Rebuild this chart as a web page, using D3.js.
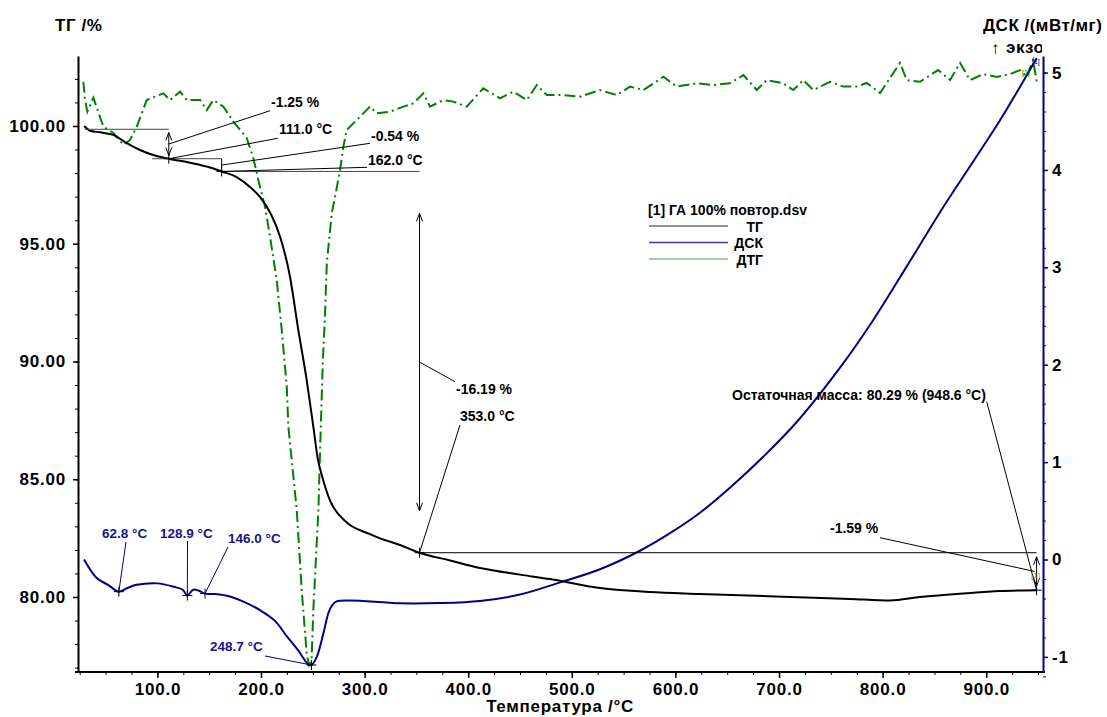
<!DOCTYPE html>
<html><head><meta charset="utf-8">
<script src="https://cdn.jsdelivr.net/npm/d3@7"></script>
<style>
body{margin:0;background:#fff;}
svg{display:block;font-family:"Liberation Sans",Arial,sans-serif;font-weight:bold;}
</style></head><body>
<svg id="c" width="1107" height="717"></svg>
<script>
// ---------- DATA ----------
const tgTemp = [29.4,35.0,44.6,57.5,70.4,83.2,96.0,111.0,131.5,150.8,162.0,176.5,189.4,199.0,210.0,218.4,228.0,236.0,244.1,250.5,255.0,258.9,266.6,281.1,305.2,314.9,334.2,353.0,382.5,411.4,450.0,479.0,527.2,575.5,623.7,710.6,768.5,807.1,836.0,881.1,913.3,948.6];
const tgMass = [100.0,99.80,99.73,99.62,99.27,98.98,98.77,98.61,98.44,98.24,98.07,97.83,97.41,96.99,96.22,95.30,93.60,91.34,89.21,87.23,85.82,85.14,84.10,83.23,82.67,82.49,82.21,81.88,81.55,81.23,80.95,80.76,80.38,80.21,80.13,80.00,79.92,79.85,80.00,80.16,80.25,80.29];

const dscTemp = [29.2,41.4,52.3,62.8,71.6,80.0,100.0,116.0,124.4,128.9,134.6,140.0,146.0,155.6,170.0,184.6,199.0,213.5,225.0,235.7,245.6,248.7,253.8,260.2,265.0,268.6,273.0,286.0,334.2,372.8,411.4,450.0,488.6,527.2,565.8,594.8,623.7,655.6,688.1,718.6,758.9,791.0,823.3,858.6,887.6,913.3,948.8];
const dscVal  = [0.00,-0.19,-0.26,-0.33,-0.29,-0.26,-0.245,-0.28,-0.31,-0.37,-0.31,-0.32,-0.35,-0.355,-0.38,-0.44,-0.52,-0.63,-0.79,-0.93,-1.076,-1.083,-1.00,-0.76,-0.55,-0.47,-0.43,-0.42,-0.45,-0.447,-0.425,-0.36,-0.235,-0.10,0.09,0.27,0.48,0.765,1.09,1.43,1.97,2.46,3.01,3.62,4.09,4.51,5.15];

const dtgTemp = [28.5,30.2,32.4,38.2,47.8,57.5,67.1,73.6,80.1,89.7,105.7,112.2,121.9,128.3,141.2,147.6,154.0,163.7,173.3,186.2,192.6,197.4,203.9,208.7,215.2,220.0,224.9,226.4,234.5,239.3,244.2,246.4,248.8,250.5,255.4,257.7,259.6,261.8,263.5,268.3,271.5,276.3,279.5,282.8,289.1,298.8,305.2,311.7,324.6,337.4,347.0,356.7,363.2,376.0,385.7,398.6,414.6,430.7,443.6,456.5,466.2,475.8,491.8,508.0,527.3,543.4,556.2,569.1,588.4,601.3,620.6,636.6,652.7,665.6,678.5,688.2,704.2,713.8,723.5,733.1,749.3,762.1,775.0,784.7,797.5,816.8,823.3,836.1,853.5,865.1,874.8,884.4,897.0,910.2,923.0,932.7,939.1,945.2,948.8];
const dtgVal  = [0.066,-0.029,-0.089,-0.017,-0.167,-0.200,-0.262,-0.236,-0.167,-0.029,0.006,-0.029,0.015,-0.029,-0.029,-0.081,-0.029,-0.063,-0.141,-0.226,-0.330,-0.444,-0.583,-0.739,-0.964,-1.223,-1.518,-1.726,-2.158,-2.574,-2.912,-2.964,-2.938,-2.678,-2.158,-1.726,-1.397,-1.137,-0.877,-0.617,-0.531,-0.392,-0.271,-0.184,-0.150,-0.098,-0.063,-0.098,-0.089,-0.063,-0.046,0.006,-0.063,-0.029,-0.037,-0.063,0.032,-0.020,0.015,-0.029,0.049,-0.003,-0.003,-0.011,0.023,-0.003,0.041,0.023,0.092,0.041,0.058,0.049,0.058,0.101,0.023,0.075,0.058,0.023,0.075,0.023,0.066,0.041,0.041,0.060,0.008,0.164,0.075,0.066,0.127,0.075,0.164,0.075,0.106,0.091,0.106,0.127,0.092,0.179,0.066];

const xTicks = [100,200,300,400,500,600,700,800,900];
const tgTicks = [80,85,90,95,100];
const dscTicks = [-1,0,1,2,3,4,5];

// TG step analysis
const stepStartTemp = 30.0, stepStartMass = 99.86;
const stepTemps = [111.0,162.0,353.0,948.6];
const stepMass  = [98.61,98.07,81.88,80.29];
const stepLoss  = ["-1.25 %","-0.54 %","-16.19 %","-1.59 %"];
const stepTempLabels = ["111.0 °C","162.0 °C","353.0 °C"];
const residualLabel = "Остаточная масса: 80.29 % (948.6 °C)";

// DSC peaks
const dscPeakTemps = [62.8,128.9,146.0,248.7];
const dscPeakVals  = [-0.33,-0.37,-0.35,-1.083];
const dscPeakLabels = ["62.8 °C","128.9 °C","146.0 °C","248.7 °C"];

const legendTitle = "[1] ГА 100% повтор.dsv";
const legendNames = ["ТГ","ДСК","ДТГ"];

// ---------- LAYOUT ----------
const L=78,R=1043,T=56,B=672;
const svg = d3.select("#c");
const x = d3.scaleLinear().domain([23.36,954.8]).range([L,R]);
const yTG = d3.scaleLinear().domain([76.815,102.972]).range([B,T]);
const yDSC = d3.scaleLinear().domain([-1.155,5.170]).range([B,T]);
const yDTG = d3.scaleLinear().domain([-3.0,0.2]).range([B,T]);
const NAVY="#000080", GREEN="#008000";

// ---------- AXES ----------
function minor(g){ g.select(".domain").remove(); g.selectAll("text").remove(); }
const tickFont = g => g.selectAll("text").attr("font-size",17).attr("font-weight","bold").attr("font-family","'Liberation Sans',Arial,sans-serif").attr("fill","#000").style("letter-spacing","0.8px");

// left
svg.append("g").attr("transform",`translate(${L},0)`)
  .call(d3.axisLeft(yTG).tickValues(d3.range(77,103)).tickSize(3).tickFormat("")).call(minor)
  .selectAll("line").attr("stroke","#000");
const gl = svg.append("g").attr("transform",`translate(${L},0)`)
  .call(d3.axisLeft(yTG).tickValues(tgTicks).tickFormat(d3.format(".2f")).tickSize(5).tickSizeOuter(0).tickPadding(7));
gl.call(tickFont); gl.select(".domain").attr("stroke","#000").attr("stroke-width",2);
gl.selectAll("line").attr("stroke-width",1.5);

// bottom
svg.append("g").attr("transform",`translate(0,${B})`)
  .call(d3.axisBottom(x).tickValues(d3.range(25,951,25)).tickSize(3).tickFormat("")).call(minor);
const gb = svg.append("g").attr("transform",`translate(0,${B})`)
  .call(d3.axisBottom(x).tickValues(xTicks).tickFormat(d3.format(".1f")).tickSize(6).tickSizeOuter(0).tickPadding(5));
gb.call(tickFont); gb.select(".domain").attr("stroke-width",2).attr("d",`M${L-3},0H${R+2}`);
gb.selectAll("line").attr("stroke-width",1.5);

// right
svg.append("g").attr("transform",`translate(${R},0)`)
  .call(d3.axisRight(yDSC).tickValues(d3.range(-1.2,5.2,0.2).map(v=>+v.toFixed(1))).tickSize(3).tickFormat("")).call(minor)
  .selectAll("line").attr("stroke",NAVY);
const gr = svg.append("g").attr("transform",`translate(${R},0)`)
  .call(d3.axisRight(yDSC).tickValues(dscTicks).tickFormat(d=>String(d)).tickSize(5).tickSizeOuter(0).tickPadding(4));
gr.call(tickFont); gr.select(".domain").attr("stroke",NAVY).attr("stroke-width",2);
gr.selectAll("line").attr("stroke",NAVY).attr("stroke-width",1.5);

// titles
const txt = (s,xx,yy,size,opts={}) => {
  const t = svg.append("text").attr("x",xx).attr("y",yy).attr("font-size",size).attr("font-weight","bold").text(s)
    .attr("fill",opts.fill||"#000").attr("text-anchor",opts.anchor||"start");
  if(opts.ls) t.style("letter-spacing",opts.ls);
  return t;
};
txt("ТГ /%",55,31,17,{ls:"0.6px"});
txt("ДСК /(мВт/мг)",983,31,17,{ls:"0.5px"});
svg.append("clipPath").attr("id","exoclip").append("rect").attr("x",980).attr("y",30).attr("width",62).attr("height",30);
txt("↑",991,54,17).attr("font-weight","normal");
txt("экзо",1006,53,17,{ls:"0.5px"}).attr("clip-path","url(#exoclip)");
txt("Температура /°C",560,712,17,{anchor:"middle",ls:"0.7px"});

// ---------- SERIES ----------
const lineTG = d3.line().x((d,i)=>x(tgTemp[i])).y((d,i)=>yTG(tgMass[i])).curve(d3.curveMonotoneX);
const lineDSC = d3.line().x((d,i)=>x(dscTemp[i])).y((d,i)=>yDSC(dscVal[i])).curve(d3.curveCatmullRom.alpha(0.5));
const lineDTG = d3.line().x((d,i)=>x(dtgTemp[i])).y((d,i)=>yDTG(dtgVal[i]));

svg.append("path").attr("d",lineDTG(dtgTemp)).attr("fill","none").attr("stroke",GREEN).attr("stroke-width",2).attr("stroke-dasharray","11,4,2,4");
svg.append("path").attr("d",lineDSC(dscTemp)).attr("fill","none").attr("stroke",NAVY).attr("stroke-width",2);
svg.append("path").attr("d",lineTG(tgTemp)).attr("fill","none").attr("stroke","#000").attr("stroke-width",2);

// ---------- ANNOTATIONS ----------
const ann = svg.append("g").attr("stroke","#000").attr("stroke-width",1).attr("fill","none");
const seg = (x1,y1,x2,y2,c="#000") => ann.append("line").attr("x1",x1).attr("y1",y1).attr("x2",x2).attr("y2",y2).attr("stroke",c);
const cross = (cx,cy) => { seg(cx-5,cy,cx+5,cy); seg(cx,cy-5,cx,cy+5); };
const dblArrow = (ax,yA,yB) => {
  const ins = (yB-yA)*0.11, y1=yA+ins, y2=yB-ins;
  seg(ax,y1,ax,y2);
  ann.append("polyline").attr("points",`${ax-3},${y1+8} ${ax},${y1} ${ax+3},${y1+8}`);
  ann.append("polyline").attr("points",`${ax-3},${y2-8} ${ax},${y2} ${ax+3},${y2-8}`);
};
const ax = stepTemps.map(t=>x(t));
const ay = stepMass.map(m=>yTG(m));
const y0 = yTG(stepStartMass);
// step 1
seg(x(stepStartTemp),y0,ax[0],y0,"#444");
dblArrow(ax[0],y0,ay[0]);
// step 2
seg(x(95),ay[0],ax[1],ay[0],"#444");
seg(ax[1],ay[0],ax[1],ay[1]);
// step 3
seg(ax[1],ay[1],ax[2],ay[1],"#444");
dblArrow(ax[2],ay[1],ay[2]);
// step 4
seg(ax[2],ay[2],ax[3],ay[2],"#000");
dblArrow(ax[3],ay[2],ay[3]);
stepTemps.forEach((t,i)=>cross(ax[i],ay[i]));

const mids = [(y0+ay[0])/2,(ay[0]+ay[1])/2,(ay[1]+ay[2])/2,(ay[2]+ay[3])/2];
// label positions (pixels)
const lossPos = [[271,107,270,110.7],[371,141,370,143.3],[456,394,455,381.7],[830,533,880,537.7]];
const tempPos = [[279,134,277.7,138.3],[368,165,367,167.3],[460,421,460,425]];
lossPos.forEach((p,i)=>{
  seg(i===3?ax[i]-2:ax[i],mids[i],p[2],p[3]);
  txt(stepLoss[i],p[0],p[1],14);
});
tempPos.forEach((p,i)=>{
  seg(ax[i],ay[i],p[2],p[3]);
  txt(stepTempLabels[i],p[0],p[1],14);
});
seg(986.7,401.7,ax[3],ay[3]);
txt(residualLabel,732,400,14);
txt("[1]",1031,578,8,{fill:"#888"}).attr("font-weight","normal");
txt("[1]",1022,75,7,{fill:GREEN}).attr("font-weight","normal");
txt("[1]",1032,64,7,{fill:NAVY}).attr("font-weight","normal");

// DSC peaks
const pPos = [[102,538,126,542],[160,538,187.5,541],[228,543,228,547],[210,651,265,656]];
dscPeakTemps.forEach((t,i)=>{
  const px=x(t), py=yDSC(dscPeakVals[i]);
  seg(px,py,pPos[i][2],pPos[i][3],NAVY);
  cross(px,py);
  txt(dscPeakLabels[i],pPos[i][0],pPos[i][1],13.5,{fill:"#14148a"});
});

// ---------- LEGEND ----------
txt(legendTitle,648,215,14);
const legCols = ["#6e6e6e","#3a3ac8","#7fbf7f"];
const legY = [226,242.5,259];
legendNames.forEach((n,i)=>{
  svg.append("line").attr("x1",649).attr("x2",728).attr("y1",legY[i]).attr("y2",legY[i]).attr("stroke",legCols[i]).attr("stroke-width",1.6);
  txt(n,763,legY[i]+5.5,14,{anchor:"end"});
});
</script>
</body></html>
